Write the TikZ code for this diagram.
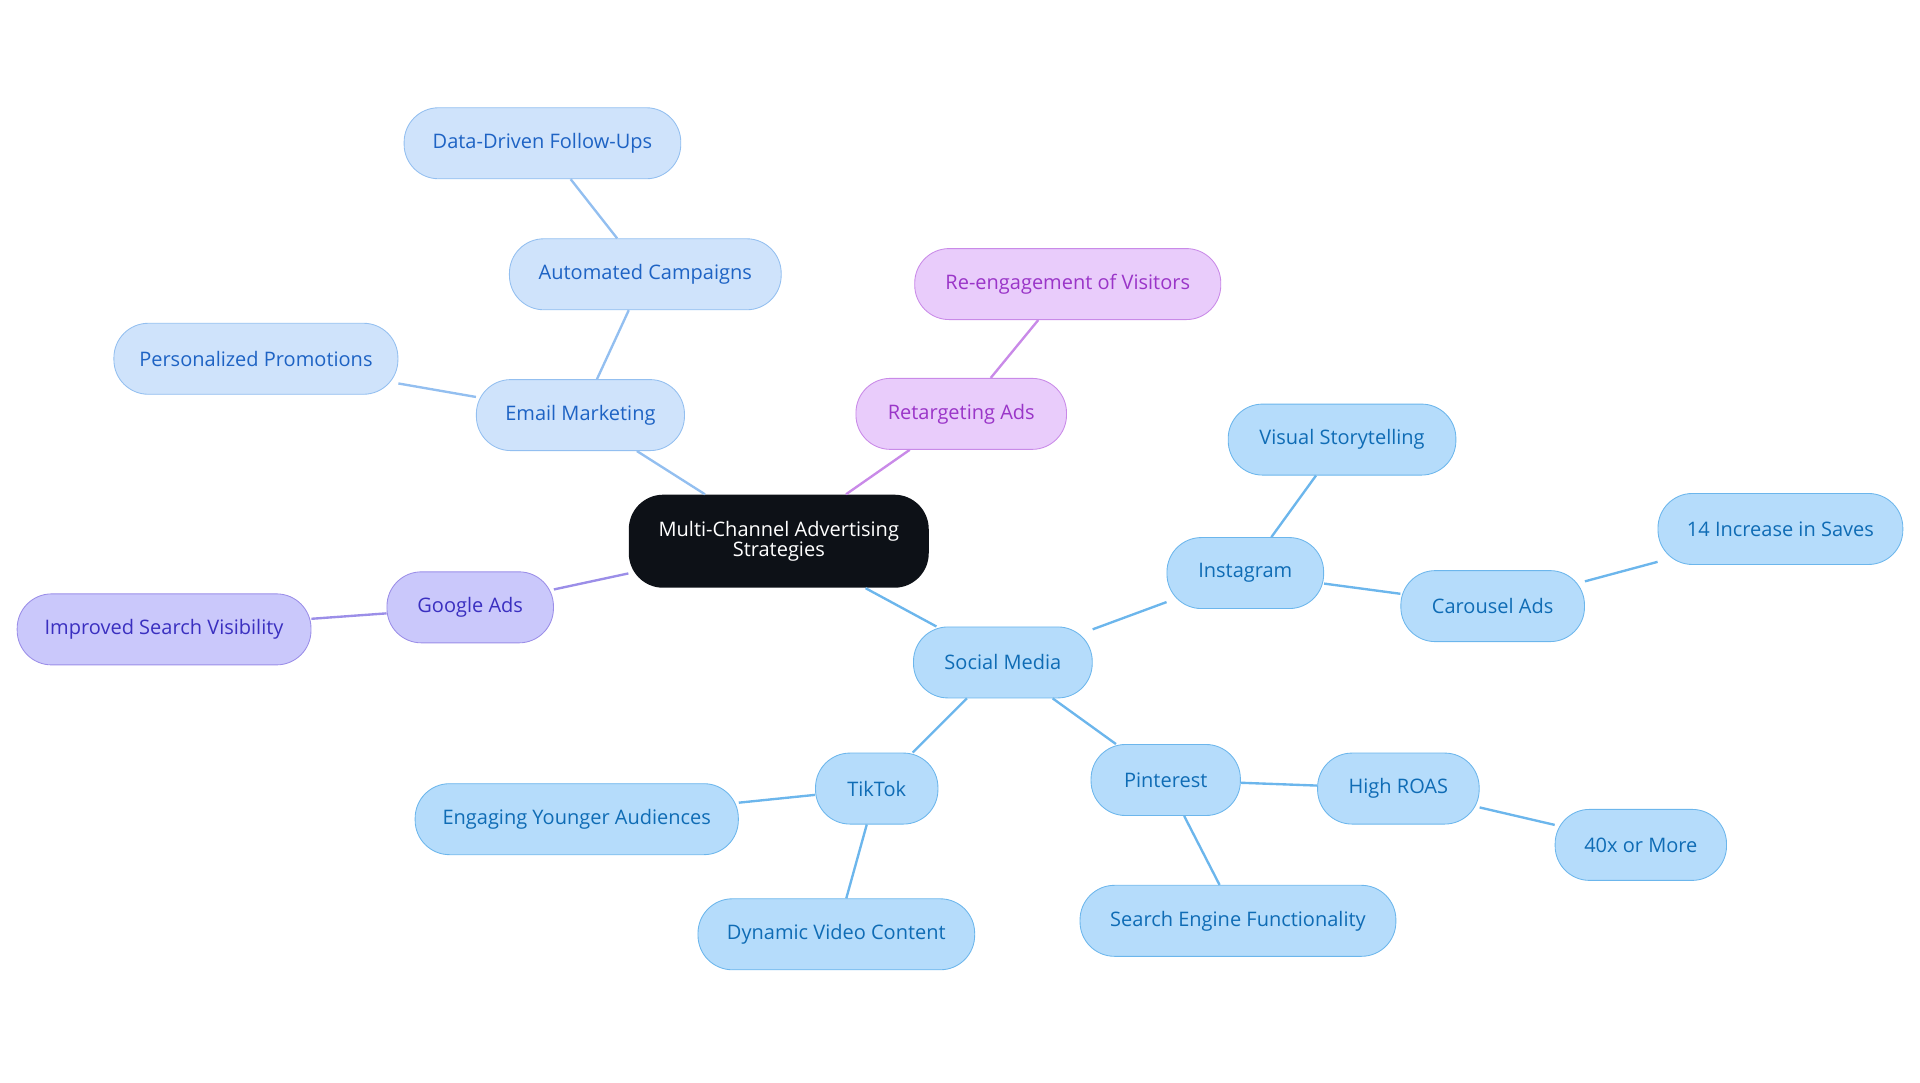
\documentclass[tikz,border=0pt]{standalone}
\usepackage{fontspec}
\setmainfont{Open Sans}
\definecolor{rootfill}{HTML}{0D1117}
\definecolor{mailfill}{HTML}{CFE3FB}\definecolor{maildraw}{HTML}{93BFF0}\definecolor{mailtext}{HTML}{1E63C4}
\definecolor{socfill}{HTML}{B5DCFB}\definecolor{socdraw}{HTML}{6CB6EC}\definecolor{soctext}{HTML}{0F6CB5}
\definecolor{retfill}{HTML}{E9CCFB}\definecolor{retdraw}{HTML}{C98AE8}\definecolor{rettext}{HTML}{9A35C8}
\definecolor{gadfill}{HTML}{CAC8FB}\definecolor{gaddraw}{HTML}{9B8EE8}\definecolor{gadtext}{HTML}{3A2FC0}
\tikzset{
  box/.style={rounded corners=16pt, minimum height=1.16cm, font=\fontsize{9.3}{11}\selectfont, inner sep=0pt},
  mail/.style={box, fill=mailfill, draw=maildraw, text=mailtext},
  soc/.style={box, fill=socfill, draw=socdraw, text=soctext},
  ret/.style={box, fill=retfill, draw=retdraw, text=rettext},
  gad/.style={box, fill=gadfill, draw=gaddraw, text=gadtext},
  link/.style={line width=1.1pt}
}
\begin{document}
\begin{tikzpicture}[x=0.02cm, y=-0.02cm]
\useasboundingbox (0,0) rectangle (1568,884);
% root
\node[box, fill=rootfill, text=white, minimum width=4.9cm, minimum height=1.52cm, align=center] (root) at (636,442) {Multi-Channel Advertising\\[-2pt]Strategies};
% email branch
\node[mail, minimum width=3.4cm] (email) at (474,339) {Email Marketing};
\node[mail, minimum width=4.44cm] (auto) at (527,224) {Automated Campaigns};
\node[mail, minimum width=4.52cm] (follow) at (443,117) {Data-Driven Follow-Ups};
\node[mail, minimum width=4.64cm] (promo) at (209,293) {Personalized Promotions};
% retargeting
\node[ret, minimum width=3.44cm] (retarget) at (785,338) {Retargeting Ads};
\node[ret, minimum width=5cm] (reengage) at (872,232) {Re-engagement of Visitors};
% google
\node[gad, minimum width=2.72cm] (google) at (384,496) {Google Ads};
\node[gad, minimum width=4.8cm] (visibility) at (134,514) {Improved Search Visibility};
% social branch
\node[soc, minimum width=2.92cm] (social) at (819,541) {Social Media};
\node[soc, minimum width=2.56cm] (insta) at (1017,468) {Instagram};
\node[soc, minimum width=3.72cm] (story) at (1096,359) {Visual Storytelling};
\node[soc, minimum width=3cm] (carousel) at (1219,495) {Carousel Ads};
\node[soc, minimum width=4cm] (saves) at (1454,432) {14 Increase in Saves};
\node[soc, minimum width=2.44cm] (pin) at (952,637) {Pinterest};
\node[soc, minimum width=2.64cm] (roas) at (1142,644) {High ROAS};
\node[soc, minimum width=2.8cm] (forty) at (1340,690) {40x or More};
\node[soc, minimum width=5.16cm] (engine) at (1011,752) {Search Engine Functionality};
\node[soc, minimum width=2cm] (tiktok) at (716,644) {TikTok};
\node[soc, minimum width=5.28cm] (younger) at (471,669) {Engaging Younger Audiences};
\node[soc, minimum width=4.52cm] (video) at (683,763) {Dynamic Video Content};
% connectors
\begin{scope}[on background layer/.style={}]
\draw[link, maildraw] (root) -- (email) (email) -- (auto) (auto) -- (follow) (email) -- (promo);
\draw[link, retdraw] (root) -- (retarget) (retarget) -- (reengage);
\draw[link, gaddraw] (root) -- (google) (google) -- (visibility);
\draw[link, socdraw] (root) -- (social) (social) -- (insta) (insta) -- (story) (insta) -- (carousel) (carousel) -- (saves)
  (social) -- (pin) (pin) -- (roas) (roas) -- (forty) (pin) -- (engine)
  (social) -- (tiktok) (tiktok) -- (younger) (tiktok) -- (video);
\end{scope}
\end{tikzpicture}
\end{document}
